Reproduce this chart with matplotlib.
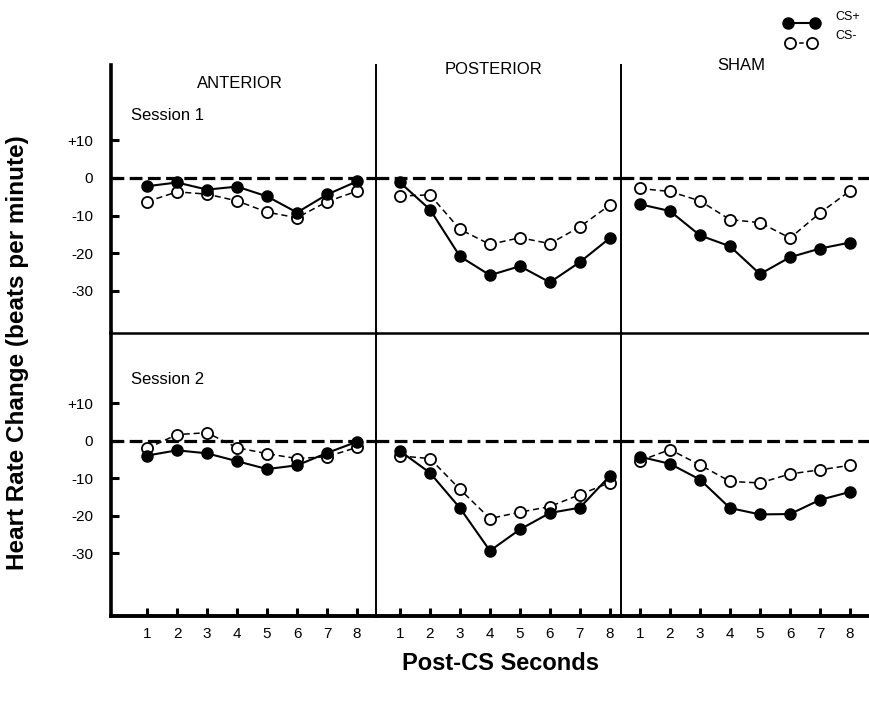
import matplotlib
matplotlib.use("Agg")
import matplotlib.pyplot as plt
import numpy as np

plt.rcParams['font.family'] = ['Liberation Sans', 'DejaVu Sans']

W, H = 869, 702
seconds = [1, 2, 3, 4, 5, 6, 7, 8]
groups = ["ANTERIOR", "POSTERIOR", "SHAM"]
sessions = ["Session 1", "Session 2"]
y_ticks = [10, 0, -10, -20, -30]
y_tick_labels = ["+10", "0", "-10", "-20", "-30"]

# Session 1 heart-rate change (beats per minute)
s1_ant_plus = [-2.2, -1.2, -3.1, -2.3, -4.9, -9.2, -4.4, -0.9]
s1_ant_minus = [-6.3, -3.7, -4.3, -6.1, -9.1, -10.6, -6.3, -3.5]
s1_post_plus = [-1.2, -8.4, -20.9, -25.9, -23.5, -27.8, -22.4, -16.0]
s1_post_minus = [-4.8, -4.5, -13.7, -17.7, -15.9, -17.5, -13.0, -7.2]
s1_sham_plus = [-7.0, -8.8, -15.3, -18.2, -25.6, -21.1, -18.8, -17.2]
s1_sham_minus = [-2.8, -3.6, -6.1, -11.1, -11.9, -16.0, -9.3, -3.4]

# Session 2 heart-rate change (beats per minute)
s2_ant_plus = [-3.9, -2.5, -3.3, -5.4, -7.5, -6.5, -3.2, -0.2]
s2_ant_minus = [-2.0, 1.7, 2.2, -1.8, -3.4, -4.7, -4.2, -1.7]
s2_post_plus = [-2.7, -8.5, -17.9, -29.3, -23.6, -19.2, -17.8, -9.3]
s2_post_minus = [-4.0, -4.7, -12.9, -20.7, -19.0, -17.5, -14.3, -11.1]
s2_sham_plus = [-4.2, -6.1, -10.3, -17.9, -19.6, -19.5, -15.7, -13.6]
s2_sham_minus = [-5.3, -2.3, -6.4, -10.8, -11.2, -8.8, -7.7, -6.5]

plus_series = [[s1_ant_plus, s1_post_plus, s1_sham_plus],
               [s2_ant_plus, s2_post_plus, s2_sham_plus]]
minus_series = [[s1_ant_minus, s1_post_minus, s1_sham_minus],
                [s2_ant_minus, s2_post_minus, s2_sham_minus]]

fig = plt.figure(figsize=(W / 100, H / 100), dpi=100)

# panel geometry in pixels (left, right) and (top, bottom)
cols = [(111, 376), (376, 621), (621, 869)]
xlims = [(-0.2, 8.63), (0.2, 8.37), (0.37, 8.63)]
rows = [(65, 333), (333, 616)]
ylims = [(-41.3, 30.1), (-46.7, 28.8)]


def px_rect(x0, x1, y0, y1):
    return [x0 / W, 1 - y1 / H, (x1 - x0) / W, (y1 - y0) / H]


for r in range(2):
    for c in range(3):
        ax = fig.add_axes(px_rect(cols[c][0], cols[c][1], rows[r][0], rows[r][1]))
        ax.set_xlim(*xlims[c])
        ax.set_ylim(*ylims[r])
        ax.patch.set_alpha(0)

        ax.axhline(0, color='black', lw=2.3, dashes=(4.0, 1.7), zorder=1)
        ax.plot(seconds, minus_series[r][c], color='black', lw=1.1,
                dashes=(4, 2.5), marker='o', ms=8, mfc='white', mec='black',
                mew=1.3, zorder=3)
        ax.plot(seconds, plus_series[r][c], color='black', lw=1.5,
                marker='o', ms=8, mfc='black', mec='black', zorder=4)

        for s in ['top', 'right']:
            ax.spines[s].set_visible(False)
        ax.spines['left'].set_linewidth(2.6 if c == 0 else 1.4)
        if r == 0:
            ax.spines['bottom'].set_linewidth(1.8)
            ax.set_xticks([])
        else:
            ax.spines['bottom'].set_linewidth(2.8)
            ax.set_xticks(seconds)
            ax.set_xticklabels([str(s) for s in seconds])
            ax.tick_params(axis='x', direction='in', length=6, width=2.2,
                           pad=8, labelsize=11)

        if c == 0:
            ax.set_yticks(y_ticks)
            ax.set_yticklabels(y_tick_labels)
            ax.tick_params(axis='y', direction='in', length=6, width=2.2,
                           pad=13, labelsize=11)
        else:
            ax.set_yticks([])

        if r == 0:
            title_pos = [(240, 83), (493, 70), (741, 66)][c]
            fig.text(title_pos[0] / W, 1 - title_pos[1] / H, groups[c],
                     ha='center', va='center', fontsize=12)

fig.text(131 / W, 1 - 116 / H, sessions[0], ha='left', va='center', fontsize=12)
fig.text(131 / W, 1 - 380 / H, sessions[1], ha='left', va='center', fontsize=12)

fig.text(18 / W, 1 - 353 / H, "Heart Rate Change (beats per minute)",
         rotation=90, ha='center', va='center', fontsize=17.5, fontweight='bold')
fig.text(500 / W, 1 - 663 / H, "Post-CS Seconds", ha='center', va='center',
         fontsize=17, fontweight='bold')

# legend
lax = fig.add_axes([0, 0, 1, 1])
lax.set_xlim(0, W)
lax.set_ylim(H, 0)
lax.axis('off')
lax.patch.set_alpha(0)
lax.plot([788, 815], [23, 23], color='black', lw=1.5, marker='o', ms=8,
         mfc='black', mec='black')
lax.plot([790, 812], [43, 43], color='black', lw=1.1, dashes=(3, 3),
         marker='o', ms=8, mfc='white', mec='black', mew=1.3)
lax.text(835, 17, "CS+", ha='left', va='center', fontsize=9)
lax.text(835, 36, "CS-", ha='left', va='center', fontsize=9)

fig.savefig("out.png", dpi=100)
